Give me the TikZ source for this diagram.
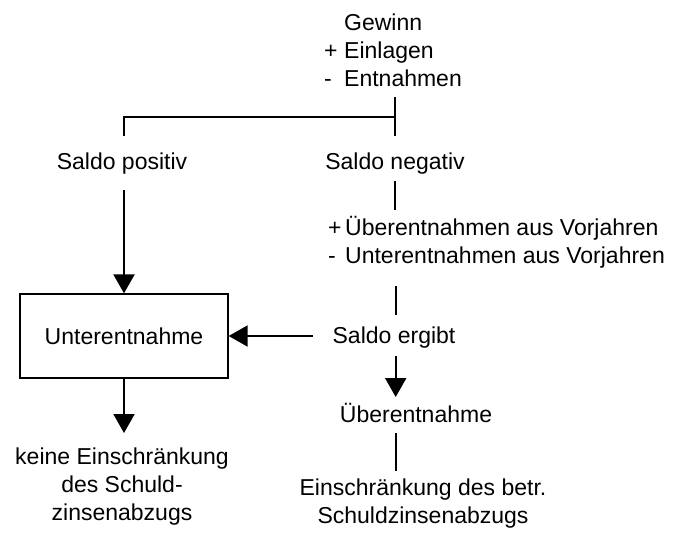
\documentclass[tikz,border=0pt]{standalone}
\usepackage{fontspec}
\setmainfont{Liberation Sans}
\usetikzlibrary{arrows.meta}
\newcommand\sgn[2]{\makebox[#1][l]{#2}}
\begin{document}
\begin{tikzpicture}[x=1pt,y=-1pt,
  txt/.style={inner sep=0pt, font=\fontsize{23}{27.7}\selectfont},
  ln/.style={line width=2pt},
  arr/.style={line width=2pt, -{Triangle[length=19pt,width=21pt]}},
  box/.style={draw, line width=1.3pt, minimum width=208pt, minimum height=84pt, inner sep=0pt, font=\fontsize{23}{28}\selectfont}]
\useasboundingbox (0,0) rectangle (677,533);

% texts (base anchor = baseline of the last line)
\node[txt, anchor=base west, align=left] (top) at (324,86)
  {\sgn{20pt}{}Gewinn\\\sgn{20pt}{+}Einlagen\\\sgn{20pt}{-}Entnahmen};
\node[txt, anchor=base] (pos) at (122,169.3) {Saldo positiv};
\node[txt, anchor=base] (neg) at (395,169.3) {Saldo negativ};
\node[txt, anchor=base west, align=left] (vor) at (328,263.5)
  {\sgn{17pt}{+}Überentnahmen aus Vorjahren\\\sgn{17pt}{-}Unterentnahmen aus Vorjahren};
\node[box] (unt) at (124,336) {Unterentnahme};
\node[txt, anchor=base] (erg) at (394,343.3) {Saldo ergibt};
\node[txt, anchor=base] (ueb) at (416,422.7) {Überentnahme};
\node[txt, anchor=base, align=center] (ein) at (423,523) {Einschränkung des betr.\\Schuldzinsenabzugs};
\node[txt, anchor=base, align=center] (kein) at (122,520) {keine Einschränkung\\des Schuld-\\zinsenabzugs};

% coordinates
\coordinate (t1) at (395,97);
\coordinate (t2) at (395,135.7);
\coordinate (tj) at (395,117.3);
\coordinate (l1) at (123.7,117.3);
\coordinate (l2) at (123.7,135.7);
\coordinate (n1) at (395,181);
\coordinate (n2) at (395,210);
\coordinate (p1) at (124,190);
\coordinate (v1) at (396,286);
\coordinate (v2) at (396,315);
\coordinate (e1) at (312.7,336);
\coordinate (d1) at (395.7,356);
\coordinate (d2) at (395.7,397);
\coordinate (u1) at (396,433);
\coordinate (u2) at (396,471);
\coordinate (k2) at (124,433);

% connectors
\draw[ln] (t1) -- (t2);
\draw[ln] (l2) -- (l1) -- (tj);
\draw[ln] (n1) -- (n2);
\draw[arr] (p1) -- (unt.north);
\draw[ln] (v1) -- (v2);
\draw[arr] (e1) -- (unt.east);
\draw[arr] (d1) -- (d2);
\draw[ln] (u1) -- (u2);
\draw[arr] (unt.south) -- (k2);
\end{tikzpicture}
\end{document}
